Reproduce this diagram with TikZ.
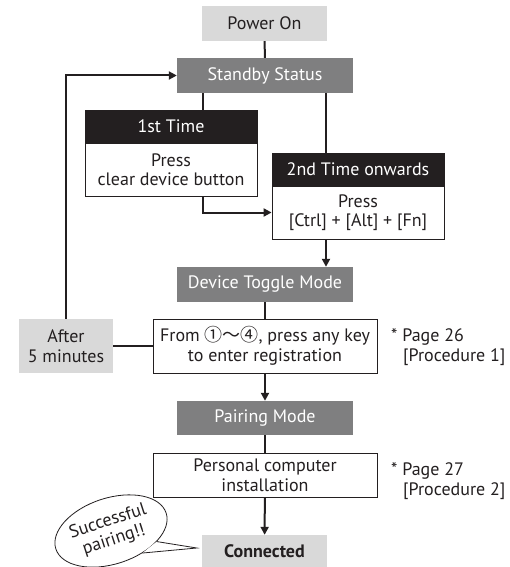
\documentclass[tikz,border=0pt]{standalone}
\usepackage{fontspec}
\setmainfont{PT Sans}
\newfontfamily\cjk{Noto Sans CJK JP}
\usetikzlibrary{arrows.meta,shapes.geometric}

\definecolor{inkblack}{HTML}{231F20}
\definecolor{lightbox}{HTML}{D9D9D9}
\definecolor{darkbox}{HTML}{7F7F80}

\tikzset{
  start/.style={fill=lightbox, text=inkblack, minimum width=125pt, minimum height=35pt, inner sep=0pt},
  state/.style={fill=darkbox, text=white, minimum width=176pt, minimum height=35pt, inner sep=0pt},
  header/.style={fill=inkblack, draw=inkblack, text=white, minimum width=172pt, minimum height=33pt, inner sep=0pt},
  body/.style={draw=inkblack, fill=white, text=inkblack, align=center, line width=0.8pt, minimum width=172pt, minimum height=53pt, inner sep=0pt},
  action/.style={body, minimum width=224pt, minimum height=54pt},
  note/.style={anchor=west, align=left, text=inkblack, inner sep=0pt},
  bubble/.style={ellipse, draw=inkblack, fill=white, line width=0.8pt, text=inkblack, align=center, minimum width=116pt, minimum height=66pt, inner sep=0pt},
  link/.style={draw=inkblack, line width=2pt},
  flow/.style={link, -{Triangle[length=8pt,width=8pt]}},
}

\begin{document}
\begin{tikzpicture}[x=1pt, y=-1pt, font=\fontsize{18}{19.5}\selectfont]
% Fix the page size
\useasboundingbox (0, 0) rectangle (509, 567);

% Boxes of the flow
\node[start] (power) at (264.5, 23.5) {Power On};
\node[state] (standby) at (265, 75.5) {Standby Status};
\node[header] (first) at (171, 126.5) {1st Time};
\node[body] (firstbody) at (171, 169.5) {Press\\clear device button};
\node[header] (second) at (358, 169.5) {2nd Time onwards};
\node[body] (secondbody) at (358, 212.5) {Press\\{[Ctrl] + [Alt] + [Fn]}};
\node[state] (toggle) at (265, 284.5) {Device Toggle Mode};
\node[action] (register) at (265, 346) {From {\cjk ①～④}, press any key\\to enter registration};
\node[start, minimum width=94pt, minimum height=54pt, align=center] (after) at (66, 346) {After\\5 minutes};
\node[state, minimum height=34pt] (pairing) at (265, 418) {Pairing Mode};
\node[action, minimum height=44pt] (install) at (265, 475) {Personal computer\\installation};
\node[start, minimum height=32pt, font=\fontsize{18}{19.5}\selectfont\bfseries] (connected) at (264.5, 551) {Connected};

% Side notes
\node[note] (note1) at (391, 347) {* Page 26\\\hspace*{12pt}[Procedure 1]};
\node[note] (note2) at (391, 481) {* Page 27\\\hspace*{12pt}[Procedure 2]};

% Connectors
\draw[link] (power) -- (standby);
\draw[link] ([xshift=32pt]first.north) -- ([xshift=32pt]first.north |- standby.south);
\draw[link] ([xshift=-32pt]second.north) -- ([xshift=-32pt]second.north |- standby.south);
\draw[flow] ([xshift=32pt]firstbody.south) |- (secondbody.west);
\draw[flow] ([xshift=-32pt]secondbody.south) -- ([xshift=-32pt]secondbody.south |- toggle.north);
\draw[link] (toggle) -- (register);
\draw[link] (after) -- (register);
\draw[flow] (after.north) |- (standby.west);
\draw[flow] (register) -- (pairing);
\draw[link] (pairing) -- (install);
\draw[flow] (install) -- (connected);

% Speech bubble
\node[bubble, rotate=18] (cheer) at (111, 531) {Successful\\pairing!!};
\coordinate (tip) at ([xshift=-5pt, yshift=3pt]connected.west);
\fill[white] (cheer.-31) -- (tip) -- (cheer.-53) -- cycle;
\draw[inkblack, line width=0.8pt] (cheer.-31) -- (tip) -- (cheer.-53);
\end{tikzpicture}
\end{document}
